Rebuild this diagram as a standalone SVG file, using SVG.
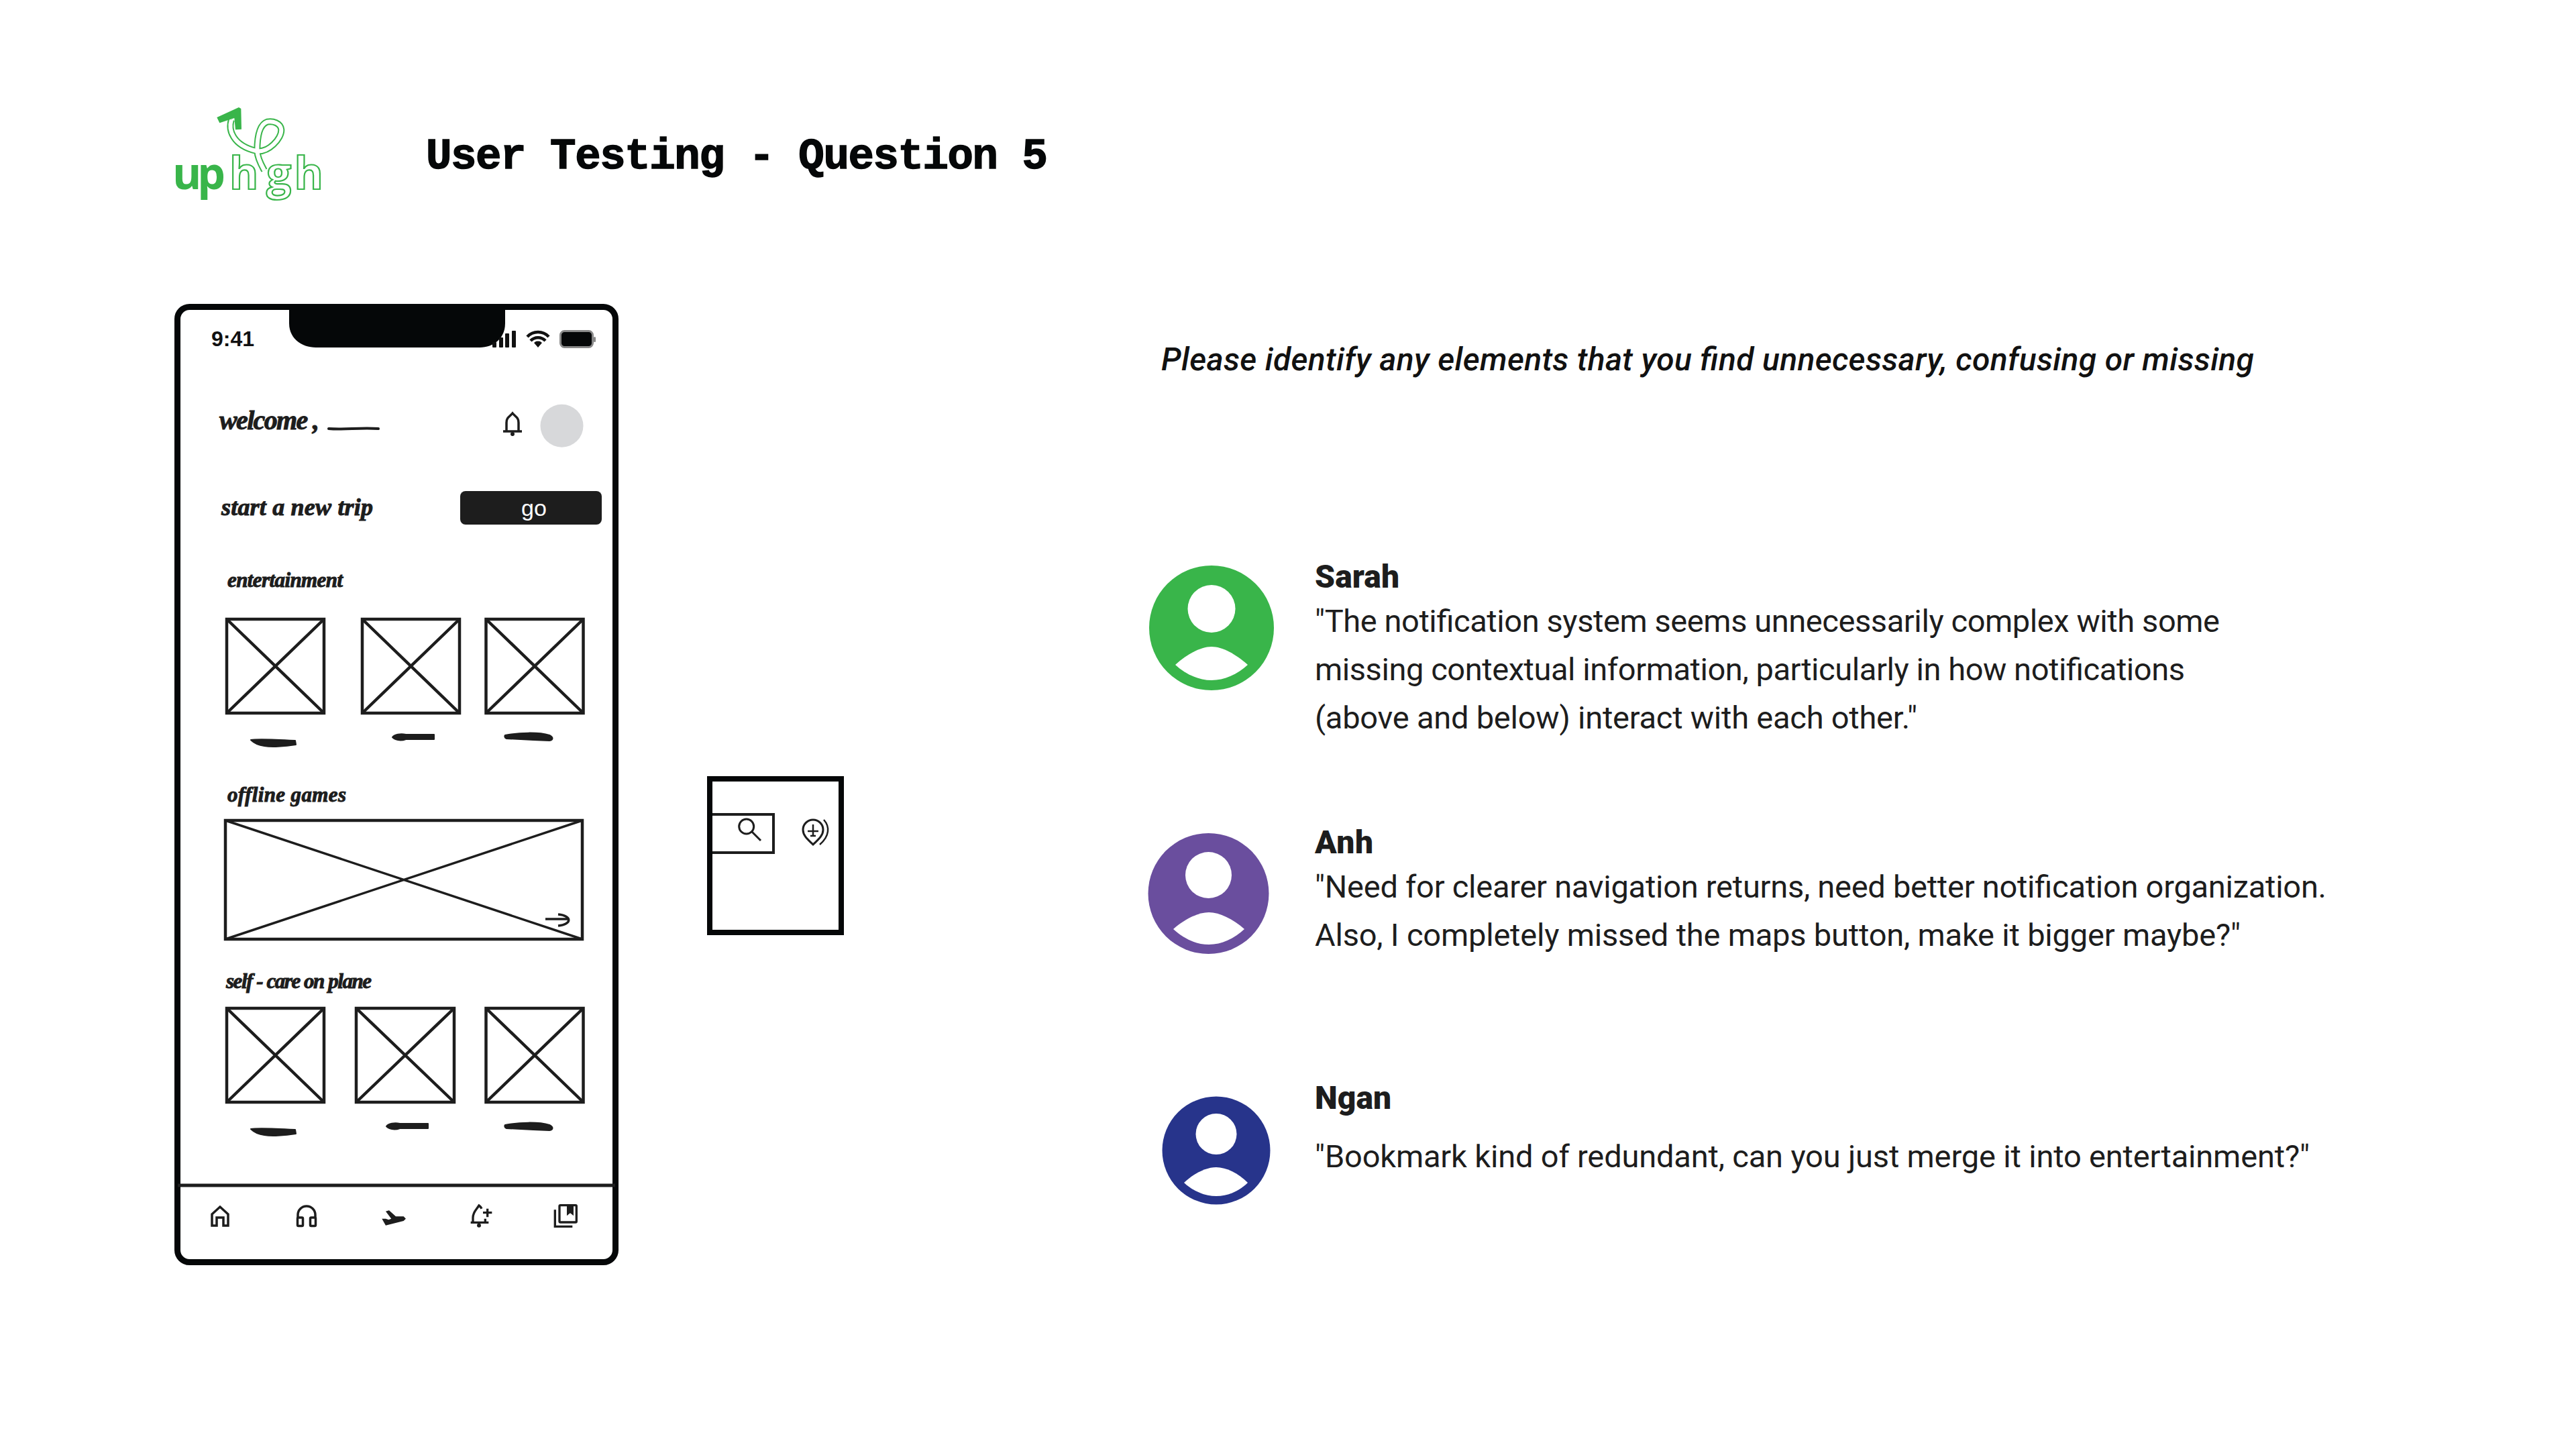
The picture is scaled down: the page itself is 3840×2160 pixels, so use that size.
<svg xmlns="http://www.w3.org/2000/svg" width="3840" height="2160" viewBox="0 0 3840 2160">
<style>
.hand{font-family:"Liberation Serif",serif;font-style:italic;font-weight:700;fill:#1d1d1d;stroke:#1d1d1d;stroke-width:1}
.body{font-family:Roboto,"Liberation Sans",sans-serif;font-size:47px;fill:#1d1d1d}
.name{font-family:Roboto,"Liberation Sans",sans-serif;font-size:48px;font-weight:900;fill:#1d1d1d}
.box{fill:none;stroke:#1d1d1d;stroke-width:4.5}
.xl{stroke:#1d1d1d;stroke-width:4.5}
.scr{fill:#1d1d1d;stroke:#1d1d1d;stroke-width:2;stroke-linejoin:round}
.ic{fill:none;stroke:#1d1d1d;stroke-width:3.5}
.logo{font-family:"Open Sans","Noto Sans",sans-serif;font-size:66px;font-weight:700;fill:#fff;stroke:#39b54a;stroke-width:2.2}
.av{fill:#fff}
</style>
<defs>
<path id="s1" d="M0 0C10 -2 30 -1 66 1L67 7C50 10 30 11 20 9C12 8 4 4 0 0Z"/>
<path id="s2" d="M0 5C3 1 12 -1 20 1L62 1V8L20 8C12 11 3 9 0 5Z"/>
<path id="s3" d="M0 3C20 -1 50 -2 66 3C72 6 72 10 66 11C45 10 20 9 2 8C-1 7 -1 4 0 3Z"/>
</defs>
<rect width="3840" height="2160" fill="#fff"/>
<g id="logo">
<g transform="translate(250 150) scale(.3333)">
<path d="M285 85C270 130 290 200 395 225C450 235 510 170 508 130C505 100 470 90 445 95C415 105 400 150 400 225C402 260 420 290 432 312" fill="none" stroke="#39b54a" stroke-width="30"/>
<path d="M285 85C270 130 290 200 395 225C450 235 510 170 508 130C505 100 470 90 445 95C415 105 400 150 400 225C402 260 420 290 432 312" fill="none" stroke="#fff" stroke-width="18"/>
<path d="M220 75L318 30L328 36L330 128L303 130L298 78L232 100Z" fill="#39b54a"/>
</g>
<text x="257" y="282" textLength="79" font-family="'Open Sans','Noto Sans',sans-serif" font-size="66" font-weight="700" fill="#39b54a">up</text>
<text x="342" y="282" class="logo">h</text>
<text x="397" y="282" class="logo" textLength="85">gh</text>
</g>
<text id="title" x="635" y="251" font-family="'Liberation Mono',monospace" font-size="64" font-weight="700" fill="#050708" stroke="#050708" stroke-width="1.500" textLength="927">User Testing - Question 5</text>
<g id="phone">
<rect x="264.500" y="457.500" width="653" height="1424" rx="18" fill="#fff" stroke="#050708" stroke-width="9"/>
<path d="M431 455H753V482C753 505 735 518 715 518H471C450 518 431 505 431 482Z" fill="#050708"/>
<text x="315" y="516" font-family="'Liberation Sans',sans-serif" font-size="32" font-weight="700" fill="#111">9:41</text>
<g id="status" fill="#111">
<rect x="734" y="510" width="6" height="8" rx="1"/><rect x="744" y="503" width="6" height="15" rx="1"/><rect x="753" y="497" width="6" height="21" rx="1"/><rect x="763" y="493" width="6" height="25" rx="1"/>
<path d="M802 518L796 511A8.500 8.500 0 0 1 808 511Z"/>
<path d="M791 508A15 15 0 0 1 813 508M786 502A22 22 0 0 1 818 502" fill="none" stroke="#111" stroke-width="4.500"/>
<rect x="835.500" y="493.500" width="48" height="24" rx="6" fill="#050708" stroke="#888" stroke-width="3"/>
<rect x="885" y="502" width="3" height="8" rx="1.500" fill="#888"/>
</g>
<g id="greeting">
<text x="327" y="640" class="hand" font-size="40" textLength="149">welcome ,</text>
<path d="M490 639C515 641 535 637 564 639" fill="none" stroke="#1d1d1d" stroke-width="4" stroke-linecap="round"/>
<path class="ic" d="M755 643V630C755 622 760 621 764 616C768 621 773 622 773 630V643M750 643H778"/>
<circle cx="764" cy="647" r="3" fill="#1d1d1d"/>
<circle cx="837.500" cy="634.700" r="32" fill="#d7d8da"/>
</g>
<g id="start">
<text x="330" y="768" class="hand" font-size="36" textLength="226">start  a new trip</text>
<rect x="686" y="732" width="211" height="50" rx="8" fill="#1d1d1d"/>
<text x="796" y="769" text-anchor="middle" font-family="'Liberation Sans',sans-serif" font-size="34" fill="#fff">go</text>
</g>
<text x="339" y="875" class="hand" font-size="31" textLength="172">entertainment</text>
<g id="row1">
<g id="card1"><rect class="box" x="338" y="923" width="145" height="140"/><path class="xl" d="M338 923L483 1063M483 923L338 1063"/></g>
<g id="card2"><rect class="box" x="540" y="923" width="145" height="140"/><path class="xl" d="M540 923L685 1063M685 923L540 1063"/></g>
<g id="card3"><rect class="box" x="724.500" y="923" width="145" height="140"/><path class="xl" d="M724.500 923L869.500 1063M869.500 923L724.500 1063"/></g>
<use href="#s1" class="scr" x="374" y="1103"/><use href="#s2" class="scr" x="585" y="1094"/><use href="#s3" class="scr" x="753" y="1093"/>
</g>
<text x="339" y="1195" class="hand" font-size="31" textLength="177">offline games</text>
<g id="banner">
<rect x="336" y="1223" width="532" height="177" fill="none" stroke="#1d1d1d" stroke-width="4.500"/>
<path d="M336 1223L868 1400M868 1223L336 1400" stroke="#1d1d1d" stroke-width="3.500"/>
<path class="ic" d="M813 1370H848M832 1363C853 1365 853 1378 832 1380"/>
</g>
<text x="337" y="1473" class="hand" font-size="31" textLength="217">self - care on plane</text>
<g id="row3">
<g id="card4"><rect class="box" x="338" y="1503" width="145" height="140"/><path class="xl" d="M338 1503L483 1643M483 1503L338 1643"/></g>
<g id="card5"><rect class="box" x="531" y="1503" width="146" height="140"/><path class="xl" d="M531 1503L677 1643M677 1503L531 1643"/></g>
<g id="card6"><rect class="box" x="724.500" y="1503" width="145" height="140"/><path class="xl" d="M724.500 1503L869.500 1643M869.500 1503L724.500 1643"/></g>
<use href="#s1" class="scr" x="374" y="1683"/><use href="#s2" class="scr" x="576" y="1674"/><use href="#s3" class="scr" x="753" y="1674"/>
</g>
<g id="tabbar">
<path d="M265 1767H917" stroke="#1d1d1d" stroke-width="5"/>
<path class="ic" d="M316 1827V1810L328 1799L340 1810V1827H333V1815H323V1827Z"/>
<path class="ic" d="M444 1816V1811A13 13 0 0 1 470 1811V1816"/>
<rect class="ic" x="443.500" y="1815" width="8" height="12.500" rx="1.500"/>
<rect class="ic" x="462.500" y="1815" width="8" height="12.500" rx="1.500"/>
<path transform="translate(300 1785) scale(.3333)" fill="#1d1d1d" d="M825 62L840 58L870 85L905 85L915 95L905 105L825 125L808 95L825 95L838 100L850 95Z"/>
<g transform="translate(690 1785) scale(.3333)">
<path d="M45 110V90C45 65 60 55 72 36C78 40 82 46 84 50" fill="none" stroke="#1d1d1d" stroke-width="10"/>
<path d="M35 112H115M100 95V110M110 50V88M90 68H130" fill="none" stroke="#1d1d1d" stroke-width="10"/>
<circle cx="72" cy="125" r="9" fill="#1d1d1d"/>
<path d="M412 55V130H490" fill="none" stroke="#1d1d1d" stroke-width="10"/>
<rect x="432" y="35" width="76" height="76" rx="4" fill="none" stroke="#1d1d1d" stroke-width="10"/>
<path d="M465 38H495V82L480 70L465 82Z" fill="#1d1d1d"/>
</g>
</g>
</g>
<g id="map-frame">
<rect x="1058" y="1161" width="196" height="229" fill="#fff" stroke="#050708" stroke-width="8"/>
<path d="M1062 1214H1153V1271H1062" fill="none" stroke="#1d1d1d" stroke-width="4"/>
<circle cx="1112.700" cy="1232" r="11" fill="none" stroke="#1d1d1d" stroke-width="3"/>
<path d="M1121 1240L1134 1253" stroke="#1d1d1d" stroke-width="3"/>
<path d="M1212 1259C1205 1252 1197 1246 1197 1237A15 15 0 0 1 1227 1237C1227 1246 1219 1252 1212 1259Z" fill="none" stroke="#1d1d1d" stroke-width="3"/>
<path d="M1228 1222C1237 1232 1237 1246 1222 1259M1212 1229V1246M1204 1239H1220M1208 1246H1216" fill="none" stroke="#1d1d1d" stroke-width="2.500"/>
</g>
<text id="prompt" x="1731" y="552" font-family="Roboto,'Liberation Sans',sans-serif" font-size="48" font-style="italic" font-weight="500" fill="#111" textLength="1629">Please identify any elements that you find unnecessary, confusing or missing</text>
<g id="sarah">
<circle cx="1806" cy="936" r="93" fill="#39b54a"/>
<circle class="av" cx="1806" cy="907.500" r="35.500"/>
<path class="av" d="M1752 991C1770 975 1790 964 1806 964C1822 964 1842 975 1860 991C1845 1005 1825 1014 1806 1014C1787 1014 1767 1005 1752 991Z"/>
<text class="name" x="1960" y="876" textLength="126">Sarah</text>
<text class="body" x="1960" y="941.500" textLength="1349">"The notification system seems unnecessarily complex with some</text>
<text class="body" x="1960" y="1013.500" textLength="1297">missing contextual information, particularly in how notifications</text>
<text class="body" x="1960" y="1085.500" textLength="898">(above and below) interact with each other."</text>
</g>
<g id="anh">
<circle cx="1801.500" cy="1332" r="90" fill="#6a4e9e"/>
<circle class="av" cx="1801.500" cy="1304.500" r="34.500"/>
<path class="av" d="M1749 1385C1766 1370 1786 1360 1802 1360C1818 1360 1838 1370 1855 1385C1840 1399 1821 1408 1802 1408C1783 1408 1764 1399 1749 1385Z"/>
<text class="name" x="1960" y="1272" textLength="87">Anh</text>
<text class="body" x="1960" y="1338" textLength="1508">"Need for clearer navigation returns, need better notification organization.</text>
<text class="body" x="1960" y="1410" textLength="1380">Also, I completely missed the maps button, make it bigger maybe?"</text>
</g>
<g id="ngan">
<circle cx="1813" cy="1715" r="80.500" fill="#27348b"/>
<circle class="av" cx="1813" cy="1690.500" r="30.500"/>
<path class="av" d="M1765 1763C1780 1749 1798 1740 1813 1740C1828 1740 1846 1749 1860 1763C1847 1776 1830 1783 1813 1783C1796 1783 1779 1776 1765 1763Z"/>
<text class="name" x="1960" y="1652.500" textLength="114">Ngan</text>
<text class="body" x="1960" y="1740" textLength="1483">"Bookmark kind of redundant, can you just merge it into entertainment?"</text>
</g>
</svg>
